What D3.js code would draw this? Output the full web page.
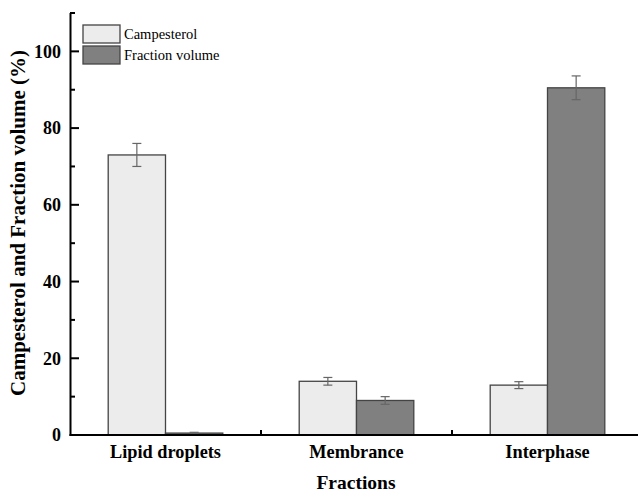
<!DOCTYPE html>
<html>
<head>
<meta charset="utf-8">
<script src="https://cdn.jsdelivr.net/npm/d3@7"></script>
<style>
  body { margin: 0; background: #fff; }
  svg text { font-family: "Liberation Serif", "Times New Roman", serif; }
</style>
</head>
<body>
<div class="chart"></div>
<script>
const categories = ['Lipid droplets', 'Membrance', 'Interphase'];
const seriesNames = ['Campesterol', 'Fraction volume'];
const campesterol = [73, 14, 13];
const campesterolErr = [3, 1, 0.9];
const fractionVolume = [0.5, 9, 90.5];
const fractionVolumeErr = [0.2, 1, 3.1];
const yTicks = [0, 20, 40, 60, 80, 100];
const yMinorTicks = [10, 30, 50, 70, 90, 110];

const width = 638;
const height = 493;
const colors = ['#ececec', '#808080'];

const svg = d3.select('.chart').append('svg')
  .attr('width', width)
  .attr('height', height);

// scales (trial and error to match the picture)
const y = d3.scaleLinear().domain([0, 110]).range([435, 13]);
const x0 = d3.scaleBand()
  .domain(categories)
  .range([70, 643])
  .paddingInner(0.4)
  .paddingOuter(0.2);
const x1 = d3.scaleBand()
  .domain(seriesNames)
  .range([0, x0.bandwidth()]);

const rows = categories.map(function(c, i) {
  return [
    { cat: c, key: seriesNames[0], value: campesterol[i], err: campesterolErr[i] },
    { cat: c, key: seriesNames[1], value: fractionVolume[i], err: fractionVolumeErr[i] }
  ];
});

const groups = svg.selectAll('.group')
  .data(rows)
  .enter().append('g')
  .attr('class', 'group')
  .attr('transform', function(d) { return `translate(${x0(d[0].cat)},0)`; });

groups.selectAll('rect')
  .data(function(d) { return d; })
  .enter().append('rect')
  .attr('x', function(d) { return x1(d.key); })
  .attr('y', function(d) { return y(d.value); })
  .attr('width', x1.bandwidth())
  .attr('height', function(d) { return y(0) - y(d.value); })
  .style('fill', function(d, i) { return colors[i]; })
  .style('stroke', '#444')
  .style('stroke-width', 1.3);

// error bars
const err = groups.selectAll('.err')
  .data(function(d) { return d; })
  .enter().append('g')
  .attr('class', 'err')
  .style('stroke', '#666')
  .style('stroke-width', 1.2);

err.append('line')
  .attr('x1', function(d) { return x1(d.key) + x1.bandwidth() / 2; })
  .attr('x2', function(d) { return x1(d.key) + x1.bandwidth() / 2; })
  .attr('y1', function(d) { return y(d.value + d.err); })
  .attr('y2', function(d) { return y(d.value - d.err); });

[1, -1].forEach(function(s) {
  err.append('line')
    .attr('x1', function(d) { return x1(d.key) + x1.bandwidth() / 2 - 4.5; })
    .attr('x2', function(d) { return x1(d.key) + x1.bandwidth() / 2 + 4.5; })
    .attr('y1', function(d) { return y(d.value + s * d.err); })
    .attr('y2', function(d) { return y(d.value + s * d.err); });
});

// y axis: line, inward ticks, labels
svg.append('line')
  .attr('x1', 70.5).attr('x2', 70.5)
  .attr('y1', y(110)).attr('y2', y(0) + 1)
  .style('stroke', '#000')
  .style('stroke-width', 2);

svg.append('g').selectAll('line')
  .data(yTicks)
  .enter().append('line')
  .attr('x1', 70).attr('x2', 79)
  .attr('y1', function(d) { return y(d); })
  .attr('y2', function(d) { return y(d); })
  .style('stroke', '#000')
  .style('stroke-width', 2);

svg.append('g').selectAll('line')
  .data(yMinorTicks)
  .enter().append('line')
  .attr('x1', 70).attr('x2', 75)
  .attr('y1', function(d) { return y(d); })
  .attr('y2', function(d) { return y(d); })
  .style('stroke', '#000')
  .style('stroke-width', 2);

svg.append('g').selectAll('text')
  .data(yTicks)
  .enter().append('text')
  .attr('x', 61)
  .attr('y', function(d) { return y(d); })
  .attr('dy', '0.35em')
  .attr('text-anchor', 'end')
  .style('font-size', '18px')
  .style('font-weight', 'bold')
  .text(function(d) { return d; });

// x axis line with ticks between groups
svg.append('line')
  .attr('x1', 69.5).attr('x2', width)
  .attr('y1', y(0)).attr('y2', y(0))
  .style('stroke', '#000')
  .style('stroke-width', 2);

svg.append('g').selectAll('line')
  .data(categories.slice(1))
  .enter().append('line')
  .attr('x1', function(d) { return x0(d) - x0.step() * 0.2; })
  .attr('x2', function(d) { return x0(d) - x0.step() * 0.2; })
  .attr('y1', y(0)).attr('y2', y(0) - 5)
  .style('stroke', '#000')
  .style('stroke-width', 2);

svg.append('g').selectAll('text')
  .data(categories)
  .enter().append('text')
  .attr('x', function(d) { return x0(d) + x0.bandwidth() / 2; })
  .attr('y', 458)
  .attr('text-anchor', 'middle')
  .style('font-size', '18.3px')
  .style('font-weight', 'bold')
  .text(function(d) { return d; });

svg.append('text')
  .attr('x', 356)
  .attr('y', 489)
  .attr('text-anchor', 'middle')
  .style('font-size', '19.5px')
  .style('font-weight', 'bold')
  .text('Fractions');

svg.append('text')
  .attr('transform', 'translate(25,223) rotate(-90)')
  .attr('text-anchor', 'middle')
  .style('font-size', '21px')
  .style('font-weight', 'bold')
  .text('Campesterol and Fraction volume (%)');

// legend
const legend = svg.selectAll('.legend')
  .data(seriesNames)
  .enter().append('g')
  .attr('class', 'legend')
  .attr('transform', function(d, i) { return `translate(83,${25 + i * 21})`; });

legend.append('rect')
  .attr('width', 37)
  .attr('height', 18)
  .style('fill', function(d, i) { return colors[i]; })
  .style('stroke', '#444')
  .style('stroke-width', 1.3);

legend.append('text')
  .attr('x', 41)
  .attr('y', 14)
  .style('font-size', '14.5px')
  .text(function(d) { return d; });
</script>
</body>
</html>
